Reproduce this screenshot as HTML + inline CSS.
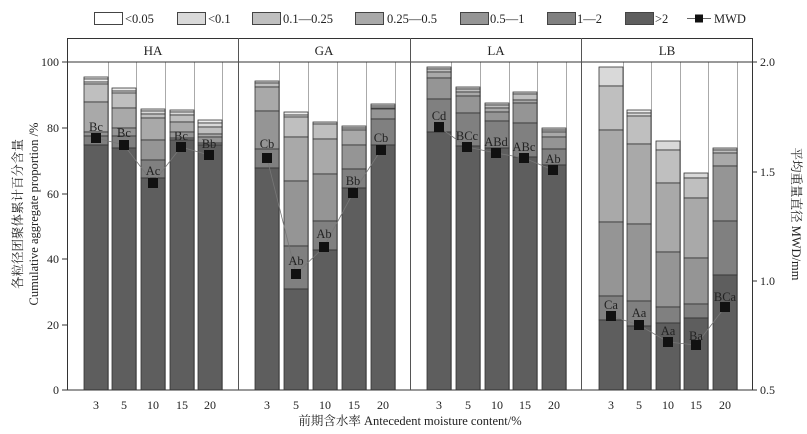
<!DOCTYPE html>
<html><head><meta charset="utf-8"><style>
html,body{margin:0;padding:0;background:#fff;}
svg{display:block;font-family:"Liberation Serif","Noto Serif CJK SC",serif;}
.b rect{stroke:#333;stroke-width:0.8;}
.c1{fill:#f4f4f4}.c2{fill:#ececec}.c3{fill:#d9d9d9}.c4{fill:#bfbfbf}.c5{fill:#a9a9a9}.c6{fill:#959595}.c7{fill:#808080}.c8{fill:#5e5e5e}
.m rect{fill:#111;}
</style></head><body>
<svg width="807" height="434" viewBox="0 0 807 434" xmlns="http://www.w3.org/2000/svg">
<rect width="807" height="434" fill="#fff"/>
<g stroke="#aaa" stroke-width="1">
<line x1="108.5" y1="62" x2="108.5" y2="390"/><line x1="136.5" y1="62" x2="136.5" y2="390"/><line x1="165.5" y1="62" x2="165.5" y2="390"/><line x1="194.5" y1="62" x2="194.5" y2="390"/><line x1="222.5" y1="62" x2="222.5" y2="390"/>
<line x1="279.5" y1="62" x2="279.5" y2="390"/><line x1="308.5" y1="62" x2="308.5" y2="390"/><line x1="337.5" y1="62" x2="337.5" y2="390"/><line x1="366.5" y1="62" x2="366.5" y2="390"/><line x1="395.5" y1="62" x2="395.5" y2="390"/>
<line x1="451.5" y1="62" x2="451.5" y2="390"/><line x1="480.5" y1="62" x2="480.5" y2="390"/><line x1="509.5" y1="62" x2="509.5" y2="390"/><line x1="537.5" y1="62" x2="537.5" y2="390"/><line x1="566.5" y1="62" x2="566.5" y2="390"/>
<line x1="623.5" y1="62" x2="623.5" y2="390"/><line x1="651.5" y1="62" x2="651.5" y2="390"/><line x1="680.5" y1="62" x2="680.5" y2="390"/><line x1="708.5" y1="62" x2="708.5" y2="390"/><line x1="737.5" y1="62" x2="737.5" y2="390"/>
</g>
<g class="b">
<!-- HA -->
<rect class="c1" x="84" y="77" width="24" height="2"/><rect class="c2" x="84" y="79" width="24" height="3"/><rect class="c3" x="84" y="82" width="24" height="2"/><rect class="c4" x="84" y="84" width="24" height="18"/><rect class="c5" x="84" y="102" width="24" height="30"/><rect class="c6" x="84" y="132" width="24" height="4"/><rect class="c7" x="84" y="136" width="24" height="9"/><rect class="c8" x="84" y="145" width="24" height="245"/>
<rect class="c2" x="112" y="88" width="24" height="3"/><rect class="c3" x="112" y="91" width="24" height="2"/><rect class="c4" x="112" y="93" width="24" height="15"/><rect class="c5" x="112" y="108" width="24" height="20"/><rect class="c6" x="112" y="128" width="24" height="8"/><rect class="c7" x="112" y="136" width="24" height="12"/><rect class="c8" x="112" y="148" width="24" height="242"/>
<rect class="c2" x="141" y="109" width="24" height="2"/><rect class="c3" x="141" y="111" width="24" height="3"/><rect class="c4" x="141" y="114" width="24" height="4"/><rect class="c5" x="141" y="118" width="24" height="22"/><rect class="c6" x="141" y="140" width="24" height="20"/><rect class="c7" x="141" y="160" width="24" height="18"/><rect class="c8" x="141" y="178" width="24" height="212"/>
<rect class="c2" x="170" y="110" width="24" height="2"/><rect class="c3" x="170" y="112" width="24" height="3"/><rect class="c4" x="170" y="115" width="24" height="7"/><rect class="c5" x="170" y="122" width="24" height="10"/><rect class="c6" x="170" y="132" width="24" height="6"/><rect class="c7" x="170" y="138" width="24" height="2"/><rect class="c8" x="170" y="140" width="24" height="250"/>
<rect class="c2" x="198" y="120" width="24" height="3"/><rect class="c3" x="198" y="123" width="24" height="4"/><rect class="c4" x="198" y="127" width="24" height="7"/><rect class="c5" x="198" y="134" width="24" height="3"/><rect class="c6" x="198" y="137" width="24" height="6"/><rect class="c7" x="198" y="143" width="24" height="2"/><rect class="c8" x="198" y="145" width="24" height="245"/>
<!-- GA -->
<rect class="c3" x="255" y="81" width="24" height="2"/><rect class="c4" x="255" y="83" width="24" height="4"/><rect class="c5" x="255" y="87" width="24" height="24"/><rect class="c6" x="255" y="111" width="24" height="38"/><rect class="c7" x="255" y="149" width="24" height="19"/><rect class="c8" x="255" y="168" width="24" height="222"/>
<rect class="c2" x="284" y="112" width="24" height="3"/><rect class="c3" x="284" y="115" width="24" height="2"/><rect class="c4" x="284" y="117" width="24" height="20"/><rect class="c5" x="284" y="137" width="24" height="44"/><rect class="c6" x="284" y="181" width="24" height="65"/><rect class="c7" x="284" y="246" width="24" height="43"/><rect class="c8" x="284" y="289" width="24" height="101"/>
<rect class="c3" x="313" y="122" width="24" height="2"/><rect class="c4" x="313" y="124" width="24" height="15"/><rect class="c5" x="313" y="139" width="24" height="35"/><rect class="c6" x="313" y="174" width="24" height="47"/><rect class="c7" x="313" y="221" width="24" height="29"/><rect class="c8" x="313" y="250" width="24" height="140"/>
<rect class="c3" x="342" y="126" width="24" height="2"/><rect class="c4" x="342" y="128" width="24" height="2"/><rect class="c5" x="342" y="130" width="24" height="15"/><rect class="c6" x="342" y="145" width="24" height="24"/><rect class="c7" x="342" y="169" width="24" height="19"/><rect class="c8" x="342" y="188" width="24" height="202"/>
<rect class="c3" x="371" y="104" width="24" height="2"/><rect class="c4" x="371" y="106" width="24" height="2"/><rect class="c5" x="371" y="108" width="24" height="1"/><rect class="c6" x="371" y="109" width="24" height="10"/><rect class="c7" x="371" y="119" width="24" height="26"/><rect class="c8" x="371" y="145" width="24" height="245"/>
<!-- LA -->
<rect class="c3" x="427" y="67" width="24" height="2"/><rect class="c4" x="427" y="69" width="24" height="3"/><rect class="c5" x="427" y="72" width="24" height="6"/><rect class="c6" x="427" y="78" width="24" height="21"/><rect class="c7" x="427" y="99" width="24" height="33"/><rect class="c8" x="427" y="132" width="24" height="258"/>
<rect class="c3" x="456" y="87" width="24" height="2"/><rect class="c4" x="456" y="89" width="24" height="3"/><rect class="c5" x="456" y="92" width="24" height="4"/><rect class="c6" x="456" y="96" width="24" height="17"/><rect class="c7" x="456" y="113" width="24" height="33"/><rect class="c8" x="456" y="146" width="24" height="244"/>
<rect class="c3" x="485" y="103" width="24" height="2"/><rect class="c4" x="485" y="105" width="24" height="3"/><rect class="c5" x="485" y="108" width="24" height="4"/><rect class="c6" x="485" y="112" width="24" height="9"/><rect class="c7" x="485" y="121" width="24" height="27"/><rect class="c8" x="485" y="148" width="24" height="242"/>
<rect class="c3" x="513" y="92" width="24" height="2"/><rect class="c4" x="513" y="94" width="24" height="6"/><rect class="c5" x="513" y="100" width="24" height="3"/><rect class="c6" x="513" y="103" width="24" height="20"/><rect class="c7" x="513" y="123" width="24" height="34"/><rect class="c8" x="513" y="157" width="24" height="233"/>
<rect class="c3" x="542" y="128" width="24" height="2"/><rect class="c4" x="542" y="130" width="24" height="2"/><rect class="c5" x="542" y="132" width="24" height="5"/><rect class="c6" x="542" y="137" width="24" height="12"/><rect class="c7" x="542" y="149" width="24" height="16"/><rect class="c8" x="542" y="165" width="24" height="225"/>
<!-- LB -->
<rect class="c3" x="599" y="67" width="24" height="19"/><rect class="c4" x="599" y="86" width="24" height="44"/><rect class="c5" x="599" y="130" width="24" height="92"/><rect class="c6" x="599" y="222" width="24" height="74"/><rect class="c7" x="599" y="296" width="24" height="24"/><rect class="c8" x="599" y="320" width="24" height="70"/>
<rect class="c2" x="627" y="110" width="24" height="3"/><rect class="c3" x="627" y="113" width="24" height="3"/><rect class="c4" x="627" y="116" width="24" height="28"/><rect class="c5" x="627" y="144" width="24" height="80"/><rect class="c6" x="627" y="224" width="24" height="77"/><rect class="c7" x="627" y="301" width="24" height="25"/><rect class="c8" x="627" y="326" width="24" height="64"/>
<rect class="c3" x="656" y="141" width="24" height="9"/><rect class="c4" x="656" y="150" width="24" height="33"/><rect class="c5" x="656" y="183" width="24" height="69"/><rect class="c6" x="656" y="252" width="24" height="55"/><rect class="c7" x="656" y="307" width="24" height="16"/><rect class="c8" x="656" y="323" width="24" height="67"/>
<rect class="c3" x="684" y="173" width="24" height="5"/><rect class="c4" x="684" y="178" width="24" height="20"/><rect class="c5" x="684" y="198" width="24" height="60"/><rect class="c6" x="684" y="258" width="24" height="46"/><rect class="c7" x="684" y="304" width="24" height="14"/><rect class="c8" x="684" y="318" width="24" height="72"/>
<rect class="c3" x="713" y="148" width="24" height="2"/><rect class="c4" x="713" y="150" width="24" height="3"/><rect class="c5" x="713" y="153" width="24" height="13"/><rect class="c6" x="713" y="166" width="24" height="55"/><rect class="c7" x="713" y="221" width="24" height="54"/><rect class="c8" x="713" y="275" width="24" height="115"/>
</g>
<!-- frame -->
<rect x="67.5" y="38.5" width="685" height="351.5" fill="none" stroke="#333" stroke-width="1"/>
<line x1="67.5" y1="62" x2="752.5" y2="62" stroke="#333"/>
<line x1="238.5" y1="38" x2="238.5" y2="390" stroke="#555"/>
<line x1="410.5" y1="38" x2="410.5" y2="390" stroke="#555"/>
<line x1="581.5" y1="38" x2="581.5" y2="390" stroke="#555"/>
<g font-size="13" text-anchor="middle" fill="#222">
<text x="153" y="55">HA</text><text x="324" y="55">GA</text><text x="496" y="55">LA</text><text x="667" y="55">LB</text>
</g>
<g stroke="#333"><line x1="62" y1="62" x2="67" y2="62"/><line x1="62" y1="128" x2="67" y2="128"/><line x1="62" y1="194" x2="67" y2="194"/><line x1="62" y1="259" x2="67" y2="259"/><line x1="62" y1="325" x2="67" y2="325"/><line x1="62" y1="390" x2="67" y2="390"/>
<line x1="752" y1="62" x2="757" y2="62"/><line x1="752" y1="172" x2="757" y2="172"/><line x1="752" y1="281" x2="757" y2="281"/><line x1="752" y1="390" x2="757" y2="390"/></g>
<g font-size="12" fill="#222" text-anchor="end">
<text x="59" y="66">100</text><text x="59" y="132">80</text><text x="59" y="198">60</text><text x="59" y="263">40</text><text x="59" y="329">20</text><text x="59" y="394">0</text>
</g>
<g font-size="12" fill="#222">
<text x="760" y="66">2.0</text><text x="760" y="176">1.5</text><text x="760" y="285">1.0</text><text x="760" y="394">0.5</text>
</g>
<g font-size="12" fill="#222" text-anchor="middle">
<text x="96" y="409">3</text><text x="124" y="409">5</text><text x="153" y="409">10</text><text x="182" y="409">15</text><text x="210" y="409">20</text>
<text x="267" y="409">3</text><text x="296" y="409">5</text><text x="325" y="409">10</text><text x="354" y="409">15</text><text x="383" y="409">20</text>
<text x="439" y="409">3</text><text x="468" y="409">5</text><text x="497" y="409">10</text><text x="525" y="409">15</text><text x="554" y="409">20</text>
<text x="611" y="409">3</text><text x="639" y="409">5</text><text x="668" y="409">10</text><text x="696" y="409">15</text><text x="725" y="409">20</text>
</g>
<text x="410" y="425" font-size="12.5" text-anchor="middle" fill="#222">前期含水率 Antecedent moisture content/%</text>
<text transform="translate(22,214) rotate(-90)" font-size="12.5" text-anchor="middle" fill="#222">各粒径团聚体累计百分含量</text>
<text transform="translate(38,214) rotate(-90)" font-size="12.5" text-anchor="middle" fill="#222">Cumulative aggregate proportion /%</text>
<text transform="translate(792,214) rotate(90)" font-size="12.5" text-anchor="middle" fill="#222">平均重量直径 MWD/mm</text>
<!-- legend -->
<g stroke="#444" stroke-width="1">
<rect x="94.5" y="12.5" width="28" height="12" fill="#fff"/>
<rect x="177.5" y="12.5" width="28" height="12" fill="#d9d9d9"/>
<rect x="252.5" y="12.5" width="28" height="12" fill="#bfbfbf"/>
<rect x="355.5" y="12.5" width="28" height="12" fill="#a9a9a9"/>
<rect x="460.5" y="12.5" width="28" height="12" fill="#959595"/>
<rect x="547.5" y="12.5" width="28" height="12" fill="#808080"/>
<rect x="625.5" y="12.5" width="28" height="12" fill="#5e5e5e"/>
<line x1="687" y1="18.5" x2="711" y2="18.5" stroke="#666"/>
</g>
<rect x="695" y="14.5" width="8" height="8" fill="#111"/>
<g font-size="12.5" fill="#222">
<text x="125" y="23">&lt;0.05</text><text x="208" y="23">&lt;0.1</text><text x="283" y="23">0.1—0.25</text><text x="387" y="23">0.25—0.5</text><text x="490" y="23">0.5—1</text><text x="577" y="23">1—2</text><text x="655" y="23">&gt;2</text><text x="714" y="23">MWD</text>
</g>
<!-- MWD -->
<g fill="none" stroke="#777" stroke-width="0.8">
<polyline points="96,138 124,145 153,183 181,147 209,155"/>
<polyline points="267,158 296,274 324,247 353,193 381,150"/>
<polyline points="439,127 467,147 496,153 524,158 553,170"/>
<polyline points="611,316 639,325 668,342 696,345 725,307"/>
</g>
<g class="m">
<rect x="91" y="133" width="10" height="10"/><rect x="119" y="140" width="10" height="10"/><rect x="148" y="178" width="10" height="10"/><rect x="176" y="142" width="10" height="10"/><rect x="204" y="150" width="10" height="10"/>
<rect x="262" y="153" width="10" height="10"/><rect x="291" y="269" width="10" height="10"/><rect x="319" y="242" width="10" height="10"/><rect x="348" y="188" width="10" height="10"/><rect x="376" y="145" width="10" height="10"/>
<rect x="434" y="122" width="10" height="10"/><rect x="462" y="142" width="10" height="10"/><rect x="491" y="148" width="10" height="10"/><rect x="519" y="153" width="10" height="10"/><rect x="548" y="165" width="10" height="10"/>
<rect x="606" y="311" width="10" height="10"/><rect x="634" y="320" width="10" height="10"/><rect x="663" y="337" width="10" height="10"/><rect x="691" y="340" width="10" height="10"/><rect x="720" y="302" width="10" height="10"/>
</g>
<g font-size="12.5" fill="#222" text-anchor="middle">
<text x="96" y="131">Bc</text><text x="124" y="137">Bc</text><text x="153" y="175">Ac</text><text x="181" y="140">Bc</text><text x="209" y="148">Bb</text>
<text x="267" y="148">Cb</text><text x="296" y="265">Ab</text><text x="324" y="238">Ab</text><text x="353" y="185">Bb</text><text x="381" y="142">Cb</text>
<text x="439" y="120">Cd</text><text x="467" y="140">BCc</text><text x="496" y="146">ABd</text><text x="524" y="151">ABc</text><text x="553" y="163">Ab</text>
<text x="611" y="309">Ca</text><text x="639" y="317">Aa</text><text x="668" y="335">Aa</text><text x="696" y="340">Ba</text><text x="725" y="301">BCa</text>
</g>
</svg>
</body></html>
